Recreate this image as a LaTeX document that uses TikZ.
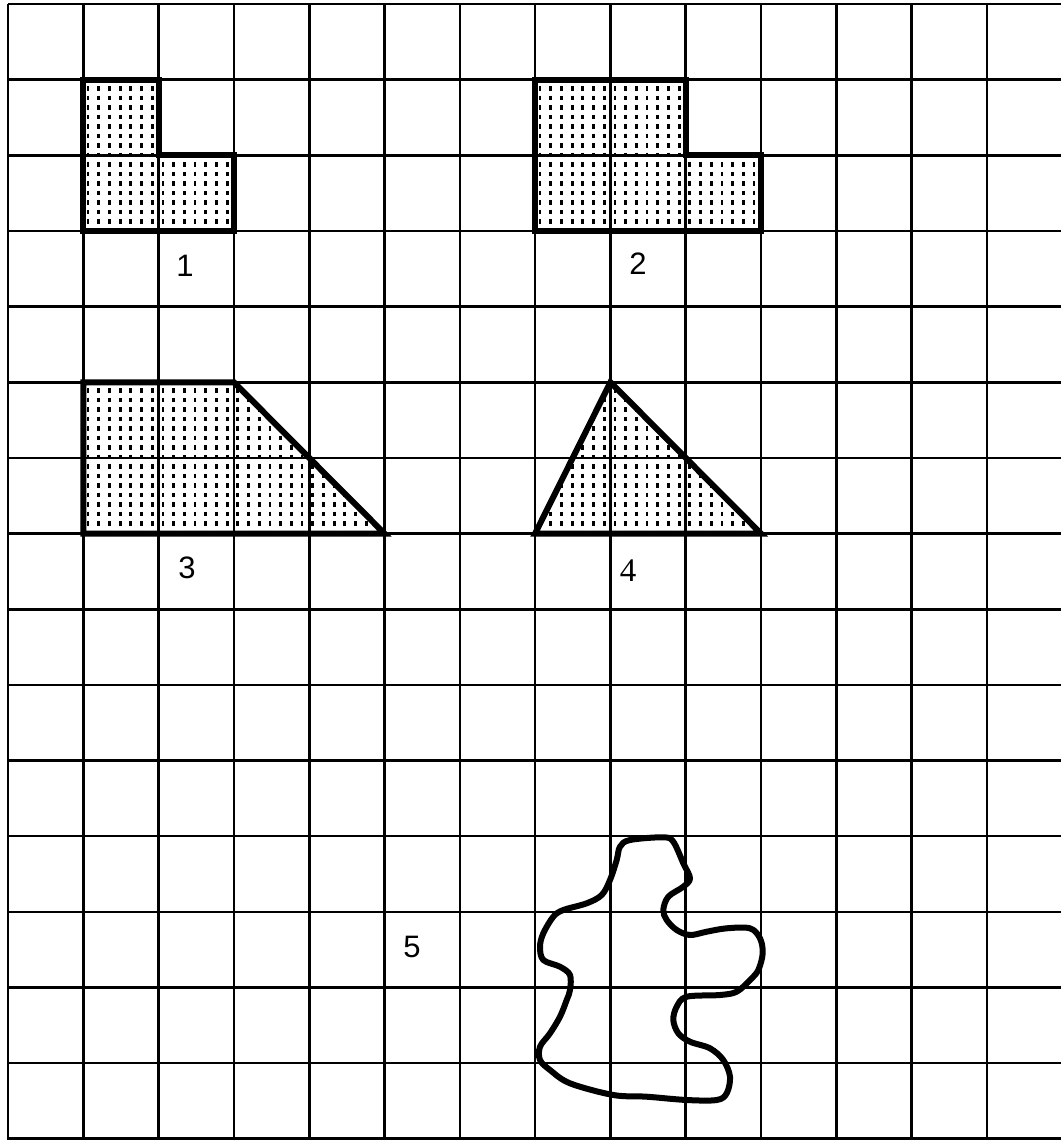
\documentclass[tikz,border=0pt]{standalone}
\usepackage{fontspec}
\setsansfont{Liberation Sans}
\newfontfamily\labserif{Liberation Serif}
\begin{document}
\begin{tikzpicture}[x=1pt,y=-1pt,
  gridline/.style={line width=2.6pt},
  outline/.style={line width=6pt,line join=miter},
  dotfill/.style={line width=2.8pt,dash pattern=on 4.5pt off 5pt},
  blobline/.style={line width=6pt,line join=round},
  lab/.style={font=\sffamily\fontsize{31}{31}\selectfont, inner sep=0pt},
  labrm/.style={font=\labserif\fontsize{33}{33}\selectfont, inner sep=0pt}]
\useasboundingbox (0,0) rectangle (1061,1141);
\fill[white] (0,0) rectangle (1061,1141);
% grid
\foreach \i in {0,...,13}{\pgfmathsetmacro\xx{8+75.3*\i}\draw[gridline] (\xx,4) -- (\xx,1140);}
\foreach \j in {0,...,15}{\pgfmathsetmacro\yy{4+75.65*\j}\draw[gridline] (8,\yy) -- (1061,\yy);}
% shape 1
\begin{scope}
\clip (83.3,79.65) -- (158.6,79.65) -- (158.6,155.3) -- (233.9,155.3) -- (233.9,230.95) -- (83.3,230.95) -- cycle;
\foreach \k in {0,...,14}{\pgfmathsetmacro\xx{88+10.7*\k}\draw[dotfill] (\xx,86) -- (\xx,232);}
\end{scope}
\draw[outline] (83.3,79.65) -- (158.6,79.65) -- (158.6,155.3) -- (233.9,155.3) -- (233.9,230.95) -- (83.3,230.95) -- cycle;
% shape 2
\begin{scope}
\clip (535.1,79.65) -- (685.7,79.65) -- (685.7,155.3) -- (761,155.3) -- (761,230.95) -- (535.1,230.95) -- cycle;
\foreach \k in {0,...,22}{\pgfmathsetmacro\xx{540+10.7*\k}\draw[dotfill] (\xx,86) -- (\xx,232);}
\end{scope}
\draw[outline] (535.1,79.65) -- (685.7,79.65) -- (685.7,155.3) -- (761,155.3) -- (761,230.95) -- (535.1,230.95) -- cycle;
% shape 3
\begin{scope}
\clip (83.3,382.25) -- (233.9,382.25) -- (384.5,533.55) -- (83.3,533.55) -- cycle;
\foreach \k in {0,...,29}{\pgfmathsetmacro\xx{88+10.7*\k}\draw[dotfill] (\xx,388) -- (\xx,534);}
\end{scope}
\draw[outline] (83.3,382.25) -- (233.9,382.25) -- (384.5,533.55) -- (83.3,533.55) -- cycle;
% shape 4
\begin{scope}
\clip (610.4,382.25) -- (761,533.55) -- (535.1,533.55) -- cycle;
\foreach \k in {0,...,22}{\pgfmathsetmacro\xx{540+10.7*\k}\draw[dotfill] (\xx,388) -- (\xx,534);}
\end{scope}
\draw[outline] (610.4,382.25) -- (761,533.55) -- (535.1,533.55) -- cycle;
% blob
\draw[blobline] plot[smooth cycle, tension=0.55] coordinates {
(620,846.7) (630,840) (663.3,837.3) (673.3,841.7) (683.3,863.3) (690,878.3)
(683.3,886.7) (668.3,896.7) (663.3,910) (666.7,920) (676.7,930) (690,935)
(706.7,931.7) (726.7,928.3) (750,928.3) (760,938.3) (762.7,953.3) (758.3,970)
(750,980) (736.7,991.7) (720,995) (686.7,996.7) (676.7,1006.7) (673.3,1020)
(678.3,1033.3) (690,1041.7) (710,1048.3) (723.3,1060) (730,1076.7) (726.7,1093.3)
(716.7,1100) (686.7,1100) (646.7,1096.7) (613.3,1095) (570,1083.3) (550,1070)
(540,1060) (540,1046.7) (550,1033.3) (560,1016.7) (566.7,1000) (570,990)
(570,975) (560,966.7) (543.3,960) (540,946.7) (543.3,933.3) (553.3,916.7)
(563.3,910) (586.7,903.3) (601.7,895) (610,880) (616.7,860)};
% labels
\node[lab] (l1) at (185,266) {1};
\node[lab] (l2) at (638,264) {2};
\node[lab] (l3) at (187,568) {3};
\node[labrm] (l4) at (628,571) {4};
\node[lab] (l5) at (412,947) {5};
\end{tikzpicture}
\end{document}
